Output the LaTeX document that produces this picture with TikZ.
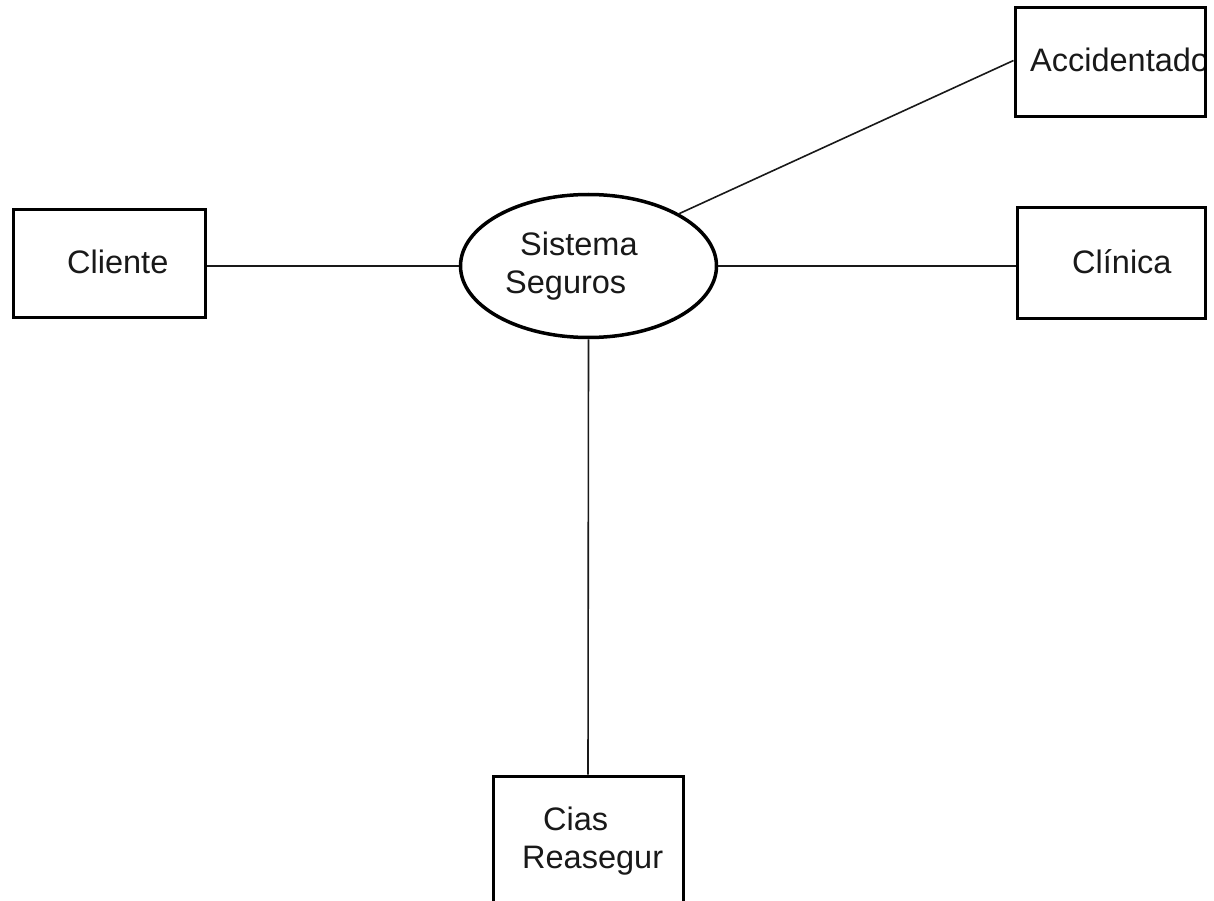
\documentclass[tikz,border=0pt]{standalone}
\usepackage{fontspec}
\setmainfont{Liberation Sans}
\usetikzlibrary{shapes.geometric}
\begin{document}
\begin{tikzpicture}[x=1pt,y=-1pt,
  entity/.style={draw=black,line width=3pt,rectangle,inner sep=0pt},
  process/.style={draw=black,line width=3.5pt,ellipse,inner sep=0pt,
                  minimum width=256pt,minimum height=143pt},
  link/.style={draw=black!90,line width=1.6pt},
  lbl/.style={anchor=base west,inner sep=0pt,text=black!90,
              font=\fontsize{32.5}{38}\selectfont}]
\useasboundingbox (0,0) rectangle (1214,901);
\clip (0,0) rectangle (1214,901);
\fill[white] (0,0) rectangle (1214,901);

% central process
\node[process] (sis) at (588.5,266) {};
\node[lbl] (sis1) at (520,255) {Sistema};
\node[lbl] (sis2) at (505,293) {Seguros};

% external entities
\node[entity,minimum width=192pt,minimum height=107pt] (cli) at (109,263.5) {};
\node[lbl] (clit) at (67,273) {Cliente};

\node[entity,minimum width=188pt,minimum height=110pt] (clin) at (1111,263) {};
\node[lbl] (clint) at (1072,273) {Clínica};

\node[minimum width=190pt,minimum height=109pt,inner sep=0pt] (acc) at (1110,62.5) {};
\begin{scope}
  \clip (acc.south west) rectangle (acc.north east);
  \node[lbl] (acct) at (1030,72) {Accidentado};
\end{scope}
\node[entity,minimum width=190pt,minimum height=109pt] (accb) at (1110,62.5) {};

\node[entity,minimum width=190pt,minimum height=130pt] (cias) at (588,841) {};
\node[lbl] (cias1) at (543,830) {Cias};
\node[lbl] (cias2) at (522,868) {Reasegur};

% connectors
\draw[link] (sis.west) -- (sis.west -| cli.east);
\draw[link] (sis.east) -- (sis.east -| clin.west);
\draw[link] (sis.30) -- ([yshift=2pt]accb.west);
\draw[link] (sis.south) -- (cias.north);
\end{tikzpicture}
\end{document}
